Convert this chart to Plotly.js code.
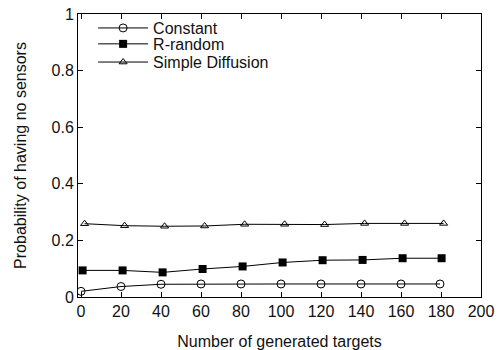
<!DOCTYPE html>
<html>
<head>
<meta charset="utf-8">
<script src="https://cdn.plot.ly/plotly-3.0.1.min.js"></script>
<style>html,body{margin:0;padding:0;background:#fff;}#chart{width:499px;height:350px;}</style>
</head>
<body>
<div id="chart"></div>
<script>
const xConstant = [0, 20, 40, 60, 80, 100, 120, 140, 160, 179.5];
const yConstant = [0.020, 0.037, 0.045, 0.046, 0.046, 0.046, 0.046, 0.046, 0.046, 0.046];
const xRandom = [0.8, 20.8, 40.8, 60.8, 80.8, 100.8, 120.8, 140.8, 160.8, 180.3];
const yRandom = [0.094, 0.094, 0.087, 0.099, 0.108, 0.122, 0.130, 0.131, 0.137, 0.137];
const xDiffusion = [1.8, 21.8, 41.8, 61.8, 81.8, 101.8, 121.8, 141.8, 161.8, 181.3];
const yDiffusion = [0.259, 0.252, 0.250, 0.251, 0.257, 0.257, 0.256, 0.260, 0.260, 0.260];
const xTicks = [0, 20, 40, 60, 80, 100, 120, 140, 160, 180, 200];
const yTicks = [0, 0.2, 0.4, 0.6, 0.8, 1];
const yTickText = ["0", "0.2", "0.4", "0.6", "0.8", "1"];

const font = {family: "Liberation Sans, Arial, sans-serif", color: "#111"};
const traces = [
  {x: xConstant, y: yConstant, name: "Constant", mode: "lines+markers", legend: "legend",
   line: {color: "#000", width: 1},
   marker: {symbol: "circle-open", size: 8, color: "#000", line: {width: 1, color: "#000"}}},
  {x: xRandom, y: yRandom, name: "R-random", mode: "lines+markers", legend: "legend2",
   line: {color: "#000", width: 1},
   marker: {symbol: "square", size: 8, color: "#000"}},
  {x: xDiffusion, y: yDiffusion, name: "Simple Diffusion", mode: "lines+markers", legend: "legend3",
   line: {color: "#000", width: 1},
   marker: {symbol: "triangle-up-open", size: 7, color: "#000", line: {width: 1, color: "#000"}}}
];
const axisCommon = {showline: true, mirror: "ticks", linecolor: "#000", linewidth: 1,
  ticks: "inside", ticklen: 5, tickcolor: "#000", showgrid: false, zeroline: false,
  tickfont: Object.assign({size: 16}, font)};
function leg(y) {
  return {x: 0.0375, y: y, xanchor: "left", yanchor: "middle", bgcolor: "rgba(0,0,0,0)",
    font: Object.assign({size: 16}, font), itemwidth: 50};
}
const layout = {
  width: 499, height: 350,
  margin: {l: 78, r: 18, t: 13, b: 53},
  paper_bgcolor: "#fff", plot_bgcolor: "#fff",
  showlegend: true,
  legend: leg(0.947), legend2: leg(0.891), legend3: leg(0.827),
  xaxis: Object.assign({}, axisCommon, {range: [-1.5, 200], tickvals: xTicks,
    ticktext: xTicks.map(String),
    title: {text: "Number of generated targets", font: Object.assign({size: 16}, font), standoff: 17}}),
  yaxis: Object.assign({}, axisCommon, {range: [0, 1], tickvals: yTicks, ticktext: yTickText,
    title: {text: "Probability of having no sensors", font: Object.assign({size: 16}, font), standoff: 20}})
};
Plotly.newPlot("chart", traces, layout, {displayModeBar: false, staticPlot: true});
</script>
</body>
</html>
